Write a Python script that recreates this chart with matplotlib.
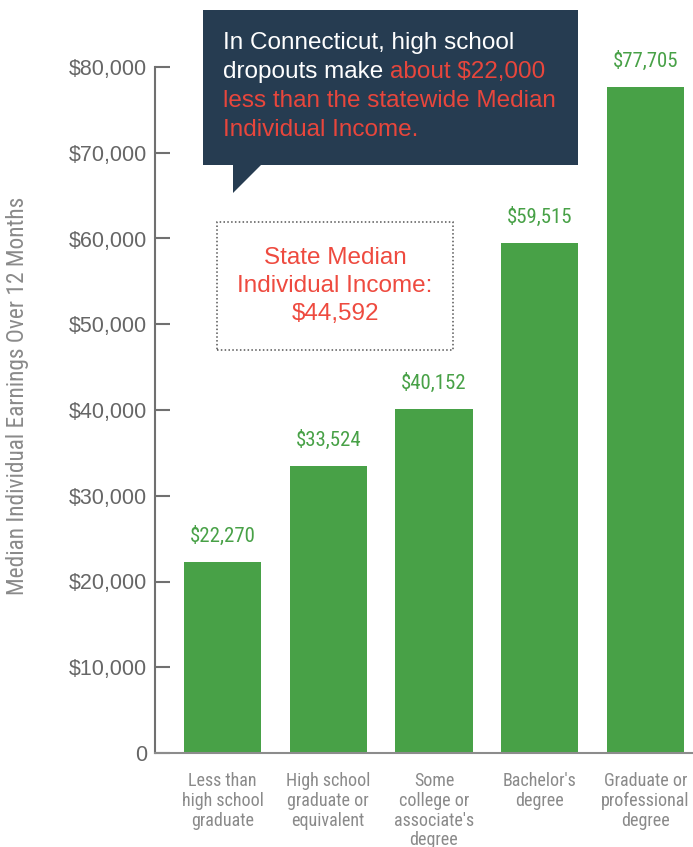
import matplotlib.pyplot as plt
from matplotlib.patches import Rectangle, Polygon
from matplotlib.text import Annotation

# median earnings by education level
categories = ['Less than\nhigh school\ngraduate',
              'High school\ngraduate or\nequivalent',
              'Some\ncollege or\nassociate\'s\ndegree',
              'Bachelor\'s\ndegree',
              'Graduate or\nprofessional\ndegree']
earnings = [22270, 33524, 40152, 59515, 77705]
state_median = 44592

yticks = [0, 10000, 20000, 30000, 40000, 50000, 60000, 70000, 80000]
ytick_labels = ['0'] + ['${:,}'.format(t) for t in yticks[1:]]

GREEN = '#48a147'
NAVY = '#263c51'
RED = '#e8463c'
W, H = 693, 847

plt.rcParams['font.family'] = ['Liberation Sans', 'DejaVu Sans']
cond = dict(family=['Roboto Condensed', 'DejaVu Sans'], fontstretch='condensed')

fig = plt.figure(figsize=(W / 100, H / 100), dpi=100)


def px(x, y):
    # pixel position from the top-left corner -> figure fraction
    return x / W, 1 - y / H


ax = fig.add_axes([155 / W, 94 / H, 538 / W, 686 / H])
ax.bar(range(len(earnings)), earnings, width=0.73, color=GREEN)
ax.set_xlim(-0.638, 4.449)
ax.set_ylim(0, 80000)

for i, v in enumerate(earnings):
    ax.annotate('${:,}'.format(v), (i, v), xytext=(0, 14.5), textcoords='offset points',
                ha='center', va='baseline', color=GREEN, fontsize=15, annotation_clip=False,
                **cond)

ax.spines['top'].set_visible(False)
ax.spines['right'].set_visible(False)
ax.spines['left'].set_color('#707070')
ax.spines['left'].set_linewidth(1.5)
ax.spines['bottom'].set_color('#8c8c8c')
ax.spines['bottom'].set_linewidth(1.5)

ax.set_yticks(yticks)
ax.set_yticklabels(ytick_labels, fontsize=15.5, color='#666666')
ax.tick_params(axis='y', direction='in', length=10.8, width=1.5, color='#707070', pad=5.8)
ax.set_xticks(range(len(categories)))
ax.set_xticklabels(categories, fontsize=13, color='#8a8a8a', linespacing=1.12, **cond)
ax.tick_params(axis='x', length=0, pad=14)

ax.set_ylabel('Median Individual Earnings Over 12 Months', fontsize=16.8, color='#8a8a8a',
              **cond)
ax.yaxis.set_label_coords(-126 / 538, 0.52)

# speech bubble
fig.patches.append(Rectangle(px(203, 165), 375 / W, 155 / H, transform=fig.transFigure,
                             facecolor=NAVY, edgecolor='none'))
fig.patches.append(Polygon([px(233, 164), px(262, 164), px(233, 193)], closed=True,
                           transform=fig.transFigure, facecolor=NAVY, edgecolor='none'))
fs = 17.5
fig.text(*px(223, 49), 'In Connecticut, high school', color='white', fontsize=fs, va='baseline')
t = fig.text(*px(223, 78), 'dropouts make ', color='white', fontsize=fs, va='baseline')
fig.add_artist(Annotation('about $22,000', xy=(1, 0), xycoords=t, ha='left', va='bottom',
                          color=RED, fontsize=fs, zorder=5))
fig.text(*px(223, 107), 'less than the statewide Median', color=RED, fontsize=fs, va='baseline')
fig.text(*px(223, 136), 'Individual Income.', color=RED, fontsize=fs, va='baseline')

# state median box
fig.patches.append(Rectangle(px(217, 350), 236 / W, 128 / H, transform=fig.transFigure,
                             facecolor='none', edgecolor='#555555', linestyle=(0, (1, 1.5)),
                             linewidth=1.1))
fig.text(*px(335, 286), 'State Median\nIndividual Income:\n${:,}'.format(state_median),
         color='#ee4a3f', fontsize=17.5, ha='center', va='center', linespacing=1.38)

fig.savefig('out.png', dpi=100)
